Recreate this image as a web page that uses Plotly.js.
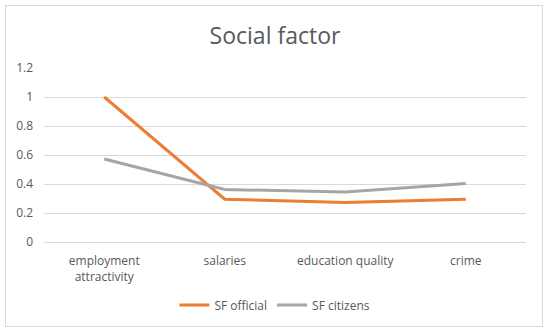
<!DOCTYPE html>
<html>
<head>
<meta charset="utf-8">
<script src="https://cdn.plot.ly/plotly-3.0.1.min.js"></script>
<style>
html,body{margin:0;padding:0;background:#fff;}
#wrap{position:relative;width:550px;height:335px;}
#chart{position:absolute;left:0;top:0;width:550px;height:335px;}
#frame{position:absolute;left:5px;top:5px;width:536px;height:320px;border:1px solid #d9d9d9;pointer-events:none;}
</style>
</head>
<body>
<div id="wrap"><div id="chart"></div><div id="frame"></div></div>
<script>
const categories = ["employment<br>attractivity", "salaries", "education quality", "crime"];
const sfOfficial = [1.0, 0.295, 0.272, 0.295];
const sfCitizens = [0.572, 0.362, 0.345, 0.403];
const yTicks = [0, 0.2, 0.4, 0.6, 0.8, 1, 1.2];
const yTickText = ["0", "0.2", "0.4", "0.6", "0.8", "1", "1.2"];

const font = "Open Sans, Lato, sans-serif";
const data = [
  {x: categories, y: sfOfficial, name: "SF official", type: "scatter", mode: "lines",
   line: {color: "#ED7D31", width: 3}},
  {x: categories, y: sfCitizens, name: "SF citizens", type: "scatter", mode: "lines",
   line: {color: "#A5A5A5", width: 3}}
];
const layout = {
  width: 550, height: 335,
  margin: {l: 44, r: 24, t: 68, b: 93},
  paper_bgcolor: "#fff", plot_bgcolor: "#fff",
  font: {family: font, color: "#595959", size: 12},
  title: {text: "Social factor", font: {family: font, size: 23, color: "#595959"},
          x: 0.5, xanchor: "center", y: 1 - 36/335, yanchor: "middle", yref: "container"},
  xaxis: {type: "category", range: [-0.5, 3.5], showgrid: false, zeroline: false,
          showline: false, ticks: "", ticklabelstandoff: 10,
          tickfont: {size: 12, color: "#595959"}, fixedrange: true},
  yaxis: {range: [0, 1.2], tickvals: yTicks, ticktext: yTickText, showgrid: true,
          gridcolor: "#d9d9d9", gridwidth: 1, zeroline: true, zerolinecolor: "#d9d9d9",
          zerolinewidth: 1, showline: false, ticks: "", ticklabelstandoff: 10,
          tickfont: {size: 12, color: "#595959"}, fixedrange: true},
  legend: {orientation: "h", x: 0.479, xanchor: "center", y: -0.362, yanchor: "middle",
           font: {size: 12, color: "#595959"}, itemwidth: 30, bgcolor: "rgba(0,0,0,0)"},
  showlegend: true
};
Plotly.newPlot("chart", data, layout, {staticPlot: true, displayModeBar: false});
</script>
</body>
</html>
